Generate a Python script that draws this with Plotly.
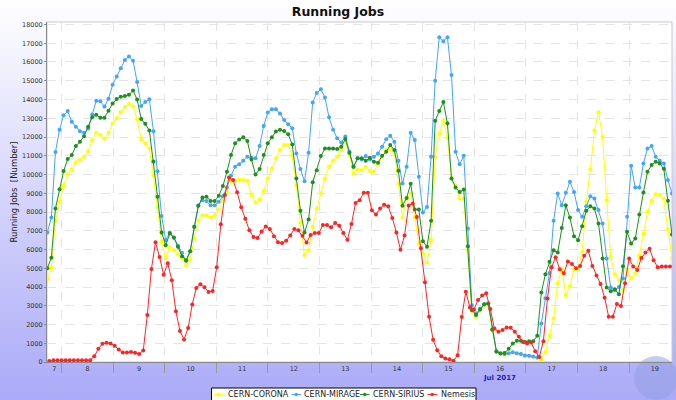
import plotly.graph_objects as go
import pandas as pd

# ---------------- data ----------------
series_names = ["CERN-CORONA", "CERN-MIRAGE", "CERN-SIRIUS", "Nemesis"]

corona = [4420, 5040, 7520, 8530, 9430, 10010, 10260, 10650, 10790, 10940,
          11240, 11830, 12230, 12110, 11900, 12220, 12720, 13000, 13320, 13600,
          13760, 13640, 12950, 11860, 11650, 11380, 9960, 8270, 6410, 5550,
          6100, 5960, 5750, 5520, 5140, 5480, 6580, 7530, 7830, 7830,
          7700, 7830, 8130, 8630, 9040, 9640, 9660, 9730, 9700, 9660,
          8900, 8500, 8650, 9120, 9790, 10320, 10860, 11300, 11570, 11570,
          10980, 9430, 7420, 5690, 5960, 7210, 8190, 9000, 9790, 10410,
          10730, 10950, 11300, 11790, 11040, 10050, 10270, 10230, 10410, 10180,
          10140, 10540, 10950, 11300, 11340, 11180, 9500, 7700, 8700, 9000,
          7700, 6300, 5780, 5300, 6500, 10950, 12200, 12860, 11930, 9800,
          9430, 8720, 8720, 5930, 2720, 2400, 2760, 3030, 3030, 1690,
          535, 446, 393, 446, 500, 446, 410, 322, 304, 268,
          215, 125, 535, 1425, 2315, 4180, 4980, 3560, 4040, 4930,
          4930, 5870, 8540, 10270, 12340, 13320, 12000, 8630, 5600, 4680,
          4360, 3830, 4890, 4450, 4750, 5690, 6850, 8010, 8590, 8950,
          8900, 8700, 7060, 5550]

mirage = [6900, 7700, 11200, 12390, 13160, 13380, 12810, 12550, 12310, 12220,
          12450, 13200, 13930, 13900, 13620, 14040, 14780, 15220, 15670, 16100,
          16290, 16070, 14930, 13650, 13870, 14010, 12310, 10170, 7790, 6490,
          6900, 6630, 6200, 5830, 5380, 5910, 7200, 8350, 8630, 8590,
          8360, 8360, 8540, 8840, 9300, 9930, 10410, 10540, 10730, 10950,
          10890, 10860, 11520, 12590, 13300, 13480, 13480, 13250, 12910, 12680,
          12460, 11120, 10290, 9640, 11160, 13840, 14340, 14550, 14110, 13050,
          12390, 11930, 11710, 12020, 11210, 10410, 10860, 10800, 10980, 10800,
          10950, 11120, 11480, 11880, 12070, 11750, 10730, 9520, 10410, 12230,
          11840, 9880, 7970, 8270, 10950, 15000, 17320, 17110, 17320, 15300,
          11210, 10540, 11000, 7120, 3030, 2580, 2850, 3080, 3120, 1730,
          560, 470, 420, 470, 520, 470, 430, 350, 330, 290,
          240, 2050, 3400, 4750, 7530, 8990, 8360, 9020, 9610, 9070,
          8100, 7740, 8310, 8840, 8720, 8100, 7380, 5520, 3970, 3830,
          4000, 4450, 7740, 10460, 9300, 9300, 10590, 11390, 11520, 10950,
          10730, 10590, 9700, 8980]

sirius = [5000, 5560, 8180, 9210, 10180, 10820, 11040, 11520, 11750, 12040,
          12550, 13050, 13180, 13020, 13020, 13400, 13790, 14020, 14150, 14180,
          14250, 14480, 14000, 12960, 12700, 12350, 10690, 8810, 6900, 6230,
          6850, 6640, 6140, 5640, 5430, 5910, 7210, 8330, 8770, 8810,
          8590, 8590, 8860, 9380, 10140, 11040, 11660, 11870, 11980, 11790,
          10800, 10000, 10290, 11040, 11660, 11980, 12290, 12380, 12320, 12140,
          11600, 9790, 8060, 6900, 7600, 9590, 10230, 10980, 11390, 11390,
          11390, 11360, 11480, 11890, 11160, 10410, 10860, 10860, 10730, 10890,
          10680, 10630, 11000, 11210, 11570, 11300, 10200, 8330, 8750, 9500,
          8130, 8130, 6440, 6140, 7530, 12860, 13390, 13860, 12730, 9790,
          9300, 9070, 9200, 6170, 2760, 2500, 2800, 3080, 3120, 1730,
          560, 450, 480, 700, 980, 1130, 1130, 1070, 1110, 1110,
          1400, 3700, 4680, 5340, 5960, 5840, 7150, 8360, 7700, 6710,
          6490, 7240, 8060, 8310, 8190, 7380, 5520, 3970, 3770, 3880,
          3610, 5110, 6940, 6320, 6580, 7860, 9040, 10140, 10500, 10680,
          10590, 10300, 8600, 6800]

nemesis = [50, 90, 90, 90, 90, 90, 90, 90, 90, 90,
           90, 300, 700, 970, 1020, 990, 860, 670, 500, 500,
           530, 490, 420, 610, 2500, 4960, 6380, 5600, 4650, 5270,
           4360, 2700, 1650, 1200, 1810, 3070, 3950, 4140, 3980, 3730,
           3790, 5050, 7340, 8900, 9840, 9700, 9050, 8250, 7640, 7020,
           6660, 6610, 6960, 7230, 7090, 6700, 6390, 6340, 6460, 6750,
           7090, 7020, 6730, 6375, 6770, 6875, 6875, 7300, 7300, 7180,
           7410, 7270, 6875, 6520, 7360, 8480, 8625, 9020, 9020, 8090,
           7860, 8180, 8390, 8300, 7680, 6910, 5980, 6750, 8340, 8450,
           7730, 6070, 4250, 2410, 1180, 625, 300, 180, 140, 70,
           360, 2400, 3750, 2910, 2800, 3300, 3540, 3660, 2820, 1790,
           1610, 1700, 1840, 1820, 1610, 1340, 1070, 980, 1040, 570,
           270, 1110, 3390, 5050, 5590, 4950, 4730, 5360, 5230, 5000,
           5125, 5660, 5930, 5125, 4610, 4160, 3430, 2410, 2410, 3090,
           2980, 4200, 5520, 5090, 4910, 5540, 5840, 6040, 5430, 5050,
           5090, 5090, 5090]

day_labels = ["7", "8", "9", "10", "11", "12", "13", "14", "15", "16", "17", "18", "19"]
y_ticks = list(range(0, 18001, 1000))

# sampling of the accounting bins
start = pd.Timestamp("2017-07-07 17:18")
step = pd.Timedelta(minutes=114)
t_main = [start + i * step for i in range(len(mirage))]
t_nem = [start + step / 2 + i * step for i in range(len(nemesis))]

colors = {"CERN-CORONA": "#ffff00", "CERN-MIRAGE": "#44a4ff",
          "CERN-SIRIUS": "#1f8f1f", "Nemesis": "#ff2424"}

# ---------------- geometry helpers ----------------
FW, FH = 676, 400
L, R, T, B = 47, 4, 22, 38
PW, PH = FW - L - R, FH - T - B


def px(x):
    return (x - L) / PW


def py(y):
    return (FH - B - y) / PH


fig = go.Figure()
for name, ys, ts in [("CERN-CORONA", corona, t_main), ("CERN-MIRAGE", mirage, t_main),
                     ("CERN-SIRIUS", sirius, t_main), ("Nemesis", nemesis, t_nem)]:
    c = colors[name]
    fig.add_trace(go.Scatter(x=ts, y=ys, name=name, mode="lines+markers",
                             line=dict(color=c, width=1),
                             marker=dict(color=c, size=4),
                             showlegend=False))

shapes = []
# vertical background gradient (white -> periwinkle)
N = 50
c0 = (255, 255, 255)
c1 = (170, 170, 248)
for j in range(N):
    f = (j + 0.5) / N
    col = tuple(int(round(c0[k] + (c1[k] - c0[k]) * f)) for k in range(3))
    shapes.append(dict(type="rect", xref="paper", yref="paper", layer="below",
                       x0=px(0), x1=px(FW), y0=py(j * FH / N), y1=py((j + 1) * FH / N + 0.5),
                       fillcolor="rgb(%d,%d,%d)" % col, line=dict(width=0)))
# plot area
shapes.append(dict(type="rect", xref="paper", yref="paper", layer="below",
                   x0=0, x1=1, y0=0, y1=1, fillcolor="white",
                   line=dict(color="#c8c8c8", width=1)))
# faint globe watermark
shapes.append(dict(type="circle", xref="paper", yref="paper", layer="below",
                   x0=px(634), x1=px(678), y0=py(400), y1=py(356),
                   fillcolor="rgba(150,160,225,0.55)", line=dict(width=0)))

# legend drawn by hand to match the compact original
leg_x0, leg_x1, leg_y0, leg_y1 = 211.5, 476, 388, 403
shapes.append(dict(type="rect", xref="paper", yref="paper",
                   x0=px(leg_x0), x1=px(leg_x1), y0=py(leg_y1), y1=py(leg_y0),
                   fillcolor="white", line=dict(color="black", width=1)))
annotations = []
leg_items = [("CERN-CORONA", 214, 226), ("CERN-MIRAGE", 291.5, 302),
             ("CERN-SIRIUS", 360, 371), ("Nemesis", 427.5, 439)]
ly = 394.5
for name, sx, tx in leg_items:
    c = colors[name]
    shapes.append(dict(type="line", xref="paper", yref="paper",
                       x0=px(sx), x1=px(sx + 9.5), y0=py(ly), y1=py(ly),
                       line=dict(color=c, width=1)))
    shapes.append(dict(type="circle", xref="paper", yref="paper",
                       x0=px(sx + 3), x1=px(sx + 6.5), y0=py(ly + 1.75), y1=py(ly - 1.75),
                       fillcolor=c, line=dict(width=0)))
    annotations.append(dict(xref="paper", yref="paper", x=px(tx), y=py(ly),
                            text=name, showarrow=False, xanchor="left", yanchor="middle",
                            font=dict(family="DejaVu Sans", size=8, color="#222")))

annotations.append(dict(xref="paper", yref="paper", x=px(499.5), y=py(377.5),
                        text="<b>Jul 2017</b>", showarrow=False, xanchor="center",
                        yanchor="middle", font=dict(family="DejaVu Sans", size=7, color="#2020c0")))

tickvals = [pd.Timestamp("2017-07-07 20:33")] + \
    [pd.Timestamp("2017-07-%02d 12:00" % d) for d in range(8, 20)]

fig.update_layout(
    width=FW, height=FH,
    margin=dict(l=L, r=R, t=T, b=B, pad=0),
    paper_bgcolor="white", plot_bgcolor="rgba(0,0,0,0)",
    title=dict(text="<b>Running Jobs</b>", x=0.5, xanchor="center", y=1 - 12 / FH,
               yanchor="middle", font=dict(family="DejaVu Sans", size=12.5, color="#111")),
    shapes=shapes, annotations=annotations, showlegend=False,
    xaxis=dict(type="date", range=[pd.Timestamp("2017-07-07 17:10"), pd.Timestamp("2017-07-19 20:00")],
               tickvals=tickvals, ticktext=day_labels, ticks="", showgrid=False,
               tickfont=dict(family="DejaVu Sans", size=6.5, color="#333"),
               showline=True, linecolor="#8a8a8a", linewidth=1, zeroline=False,
               minor=dict(dtick=86400000, tick0="2017-07-08", showgrid=True,
                          gridcolor="#e4e4e4", griddash="dash", gridwidth=1,
                          ticks="outside", ticklen=10, tickcolor="#9a9a9a")),
    yaxis=dict(range=[0, 18133], tickvals=y_ticks, tickformat="d", showgrid=True,
               gridcolor="#e4e4e4", griddash="dash", gridwidth=1,
               tickfont=dict(family="DejaVu Sans", size=6.5, color="#333"),
               ticks="outside", ticklen=2, tickcolor="#888",
               showline=True, linecolor="#8a8a8a", linewidth=1, zeroline=False,
               title=dict(text="Running Jobs  [Number]", standoff=3,
                          font=dict(family="DejaVu Sans", size=8.5, color="#222"))),
)

fig.write_html("out.html", config={"displayModeBar": False},
               post_script="document.body.style.margin='0';document.body.style.padding='0';")
